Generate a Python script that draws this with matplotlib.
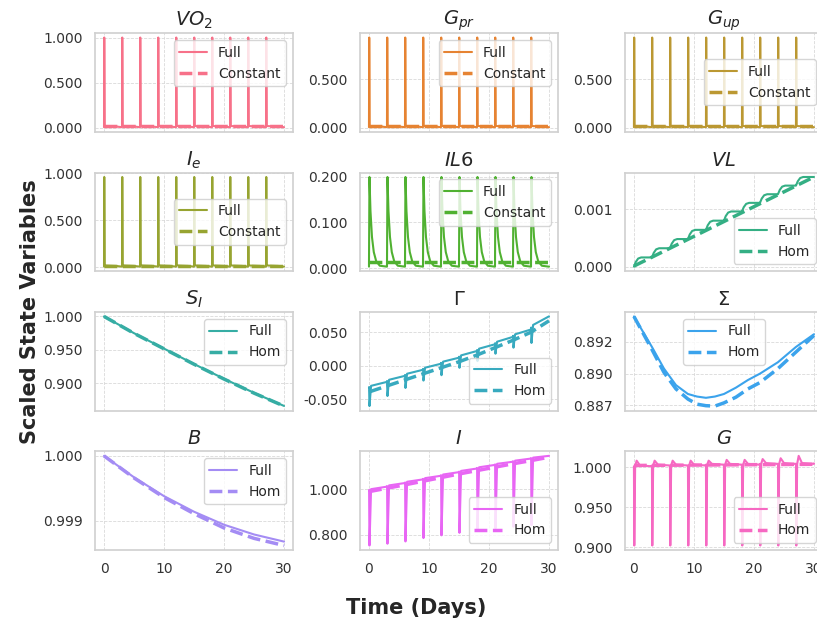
import numpy as np
import matplotlib
matplotlib.use("Agg")
import matplotlib.pyplot as plt
import seaborn as sns
from matplotlib.ticker import FormatStrFormatter, MaxNLocator

# ---- data ----
dose_days = [0, 3, 6, 9, 12, 15, 18, 21, 24, 27]
t_end = 30

# narrow spikes (VO2, Gpr, Gup, Ie): offset after dose (days) and fraction of peak
spike_dt = [0.0, 0.04, 0.12, 0.35, 2.0, 2.97]
spike_frac = [0.0, 1.0, 0.016, 0.012, 0.008, 0.0]

vo2_peaks = [1.0, 1.0, 1.0, 1.0, 1.0, 1.0, 1.0, 1.0, 1.0, 1.0]
vo2_base = 0.004
vo2_const = 0.012

gpr_peaks = [0.93, 0.93, 0.93, 0.93, 0.93, 0.93, 0.93, 0.93, 0.93, 0.93]
gpr_base = 0.004
gpr_const = 0.014

gup_peaks = [0.93, 0.93, 0.93, 0.93, 0.93, 0.93, 0.93, 0.93, 0.93, 0.93]
gup_base = 0.004
gup_const = 0.014

ie_peaks = [0.96, 0.96, 0.96, 0.96, 0.96, 0.96, 0.96, 0.96, 0.96, 0.96]
ie_base = 0.004
ie_const = 0.013

# IL6 pulse: rise then decay over ~1.5 days
il6_dt = [0.0, 0.08, 0.25, 0.5, 0.8, 1.2, 1.8, 2.97]
il6_vals = [0.003, 0.2, 0.125, 0.068, 0.035, 0.015, 0.005, 0.003]
il6_const = 0.014

# VL: level at each dose day and at day 30, rise profile within a cycle
vl_levels = [0.0, 0.00016, 0.00032, 0.00048, 0.00064, 0.0008, 0.00096, 0.00111, 0.00126, 0.00141, 0.00156]
vl_dt = [0.0, 0.3, 0.7, 1.2, 2.97]
vl_frac = [0.0, 0.5, 0.88, 1.0, 1.0]
vl_hom_t = [0, 30]
vl_hom = [0.00001, 0.00156]

# S_I
si_t = [0, 5, 10, 15, 20, 25, 30]
si_full = [1.0, 0.975, 0.952, 0.929, 0.907, 0.886, 0.8665]
si_hom = [1.0, 0.9748, 0.9517, 0.9287, 0.9066, 0.8856, 0.8663]

# Gamma: value before each dose, spike minimum, end value
gamma_pre = [-0.033, -0.024, -0.015, -0.006, 0.003, 0.012, 0.022, 0.032, 0.043, 0.054]
gamma_min = [-0.06, -0.045, -0.033, -0.022, -0.014, -0.003, 0.007, 0.018, 0.027, 0.034]
gamma_end = 0.0735
gamma_hom = [-0.039, -0.030, -0.021, -0.012, -0.003, 0.006, 0.016, 0.027, 0.038, 0.050, 0.067]

# Sigma
sigma_t = [0, 3, 5, 7, 9, 10.5, 12, 13.5, 15, 17, 19, 21, 24, 27, 30]
sigma_full = [0.8945, 0.8921, 0.8904, 0.8891, 0.8884, 0.8882, 0.8881, 0.8882, 0.8884, 0.8889,
              0.8895, 0.8900, 0.8909, 0.8921, 0.8931]
sigma_hom = [0.8945, 0.8919, 0.8901, 0.8888, 0.8880, 0.8876, 0.88748, 0.88745, 0.8877, 0.88815,
             0.8888, 0.8893, 0.8904, 0.8917, 0.8930]

# B
b_t = [0, 5, 10, 15, 20, 25, 30]
b_full = [1.0, 0.99967, 0.99938, 0.99914, 0.99894, 0.99879, 0.99868]
b_hom = [1.0, 0.99966, 0.99936, 0.99911, 0.99889, 0.99873, 0.99862]

# I: value before each dose, spike minimum, end value
i_pre = [0.995, 1.012, 1.028, 1.044, 1.06, 1.076, 1.092, 1.108, 1.122, 1.136]
i_min = [0.752, 0.76, 0.77, 0.785, 0.797, 0.808, 0.818, 0.828, 0.835, 0.842]
i_end = 1.148
i_hom = [0.99, 1.005, 1.02, 1.036, 1.052, 1.068, 1.083, 1.098, 1.113, 1.127, 1.142]

# G: baseline before each dose, drop minimum, overshoot after recovery
g_base = [1.001, 1.002, 1.002, 1.002, 1.003, 1.003, 1.003, 1.004, 1.004, 1.004]
g_min = [0.902, 0.902, 0.902, 0.902, 0.902, 0.902, 0.902, 0.902, 0.902, 0.902]
g_over = [1.008, 1.008, 1.008, 1.008, 1.008, 1.009, 1.009, 1.010, 1.011, 1.014]
g_end = 1.0045
g_hom_t = [0, 30]
g_hom = [1.002, 1.0035]

titles = [r"$VO_2$", r"$G_{pr}$", r"$G_{up}$", r"$I_e$", r"$IL6$", r"$VL$",
          r"$S_I$", r"$\Gamma$", r"$\Sigma$", r"$B$", r"$I$", r"$G$"]
alt_labels = ["Constant"] * 5 + ["Hom"] * 7
legend_locs = ["upper right", "upper right", "center right", "center right", "upper right",
               "lower right", "upper right", "lower right", "upper center", "upper right",
               "lower right", "lower right"]


def spike_curve(peaks, base):
    t, y = [], []
    for d, p in zip(dose_days, peaks):
        for dt, f in zip(spike_dt, spike_frac):
            t.append(d + dt)
            y.append(base + (p - base) * f)
    t.append(t_end)
    y.append(base)
    return t, y


def il6_curve():
    t, y = [], []
    for d in dose_days:
        for dt, v in zip(il6_dt, il6_vals):
            t.append(d + dt)
            y.append(v)
    t.append(t_end)
    y.append(il6_vals[-1])
    return t, y


def vl_curve():
    t, y = [], []
    for k, d in enumerate(dose_days):
        lo, hi = vl_levels[k], vl_levels[k + 1]
        for dt, f in zip(vl_dt, vl_frac):
            t.append(d + dt)
            y.append(lo + (hi - lo) * f)
    t.append(t_end)
    y.append(vl_levels[-1])
    return t, y


def dip_curve(pre, mins, end):
    # slow rising trend with a sharp dip at each dose
    t, y = [], []
    pts = pre + [end]
    for k, d in enumerate(dose_days):
        step = (pts[k + 1] - pts[k])
        t += [d, d + 0.02, d + 0.08, d + 0.35, d + 2.98]
        y += [pts[k], pts[k] + 0.15 * step, mins[k], pts[k] + 0.35 * step, pts[k + 1]]
    t.append(t_end)
    y.append(end)
    return t, y


def g_curve():
    t, y = [], []
    for k, d in enumerate(dose_days):
        t += [d, d + 0.06, d + 0.2, d + 0.45, d + 1.0, d + 2.98]
        y += [g_base[k], g_min[k], g_base[k], g_over[k], g_base[k] + 0.001, g_base[k]]
    t.append(t_end)
    y.append(g_end)
    return t, y


def main():
    sns.set_theme(style="whitegrid")
    plt.rcParams.update({
        "axes.edgecolor": "0.82",
        "axes.linewidth": 1.25,
        "grid.linestyle": "--",
        "grid.linewidth": 0.6,
        "grid.color": "0.85",
        "xtick.labelsize": 10,
        "ytick.labelsize": 10,
        "axes.titlesize": 14,
        "legend.fontsize": 10,
    })
    colors = sns.color_palette("husl", 12)

    days = dose_days + [t_end]
    series = [
        (spike_curve(vo2_peaks, vo2_base), ([0, t_end], [vo2_const, vo2_const])),
        (spike_curve(gpr_peaks, gpr_base), ([0, t_end], [gpr_const, gpr_const])),
        (spike_curve(gup_peaks, gup_base), ([0, t_end], [gup_const, gup_const])),
        (spike_curve(ie_peaks, ie_base), ([0, t_end], [ie_const, ie_const])),
        (il6_curve(), ([0, t_end], [il6_const, il6_const])),
        (vl_curve(), (vl_hom_t, vl_hom)),
        ((si_t, si_full), (si_t, si_hom)),
        (dip_curve(gamma_pre, gamma_min, gamma_end), (days, gamma_hom)),
        ((sigma_t, sigma_full), (sigma_t, sigma_hom)),
        ((b_t, b_full), (b_t, b_hom)),
        (dip_curve(i_pre, i_min, i_end), (days, i_hom)),
        (g_curve(), (g_hom_t, g_hom)),
    ]

    fig, axes = plt.subplots(4, 3, figsize=(8.17, 6.24), dpi=100, sharex=True)
    fig.subplots_adjust(left=0.1163, right=1.0073, top=0.947, bottom=0.1186,
                        wspace=0.338, hspace=0.414)

    for i, ax in enumerate(axes.flat):
        (tf, yf), (th, yh) = series[i]
        ax.plot(tf, yf, color=colors[i], lw=1.5, label="Full")
        ax.plot(th, yh, color=colors[i], lw=2.5, ls="--", label=alt_labels[i])
        ax.set_title(titles[i], pad=5)
        ax.yaxis.set_major_locator(MaxNLocator(nbins=3, steps=[1, 2, 2.5, 5, 10]))
        ax.yaxis.set_major_formatter(FormatStrFormatter("%.3f"))
        ax.set_xticks([0, 10, 20, 30])
        ax.tick_params(axis="both", colors="0.2", pad=3)
        ax.legend(loc=legend_locs[i])

    fig.text(0.51, 0.026, "Time (Days)", ha="center", va="center",
             fontsize=15, fontweight="bold", color="0.15")
    fig.text(0.037, 0.50, "Scaled State Variables", ha="center", va="center",
             rotation=90, fontsize=15, fontweight="bold", color="0.15")

    fig.savefig("out.png", dpi=100)
    plt.close(fig)


if __name__ == "__main__":
    main()
